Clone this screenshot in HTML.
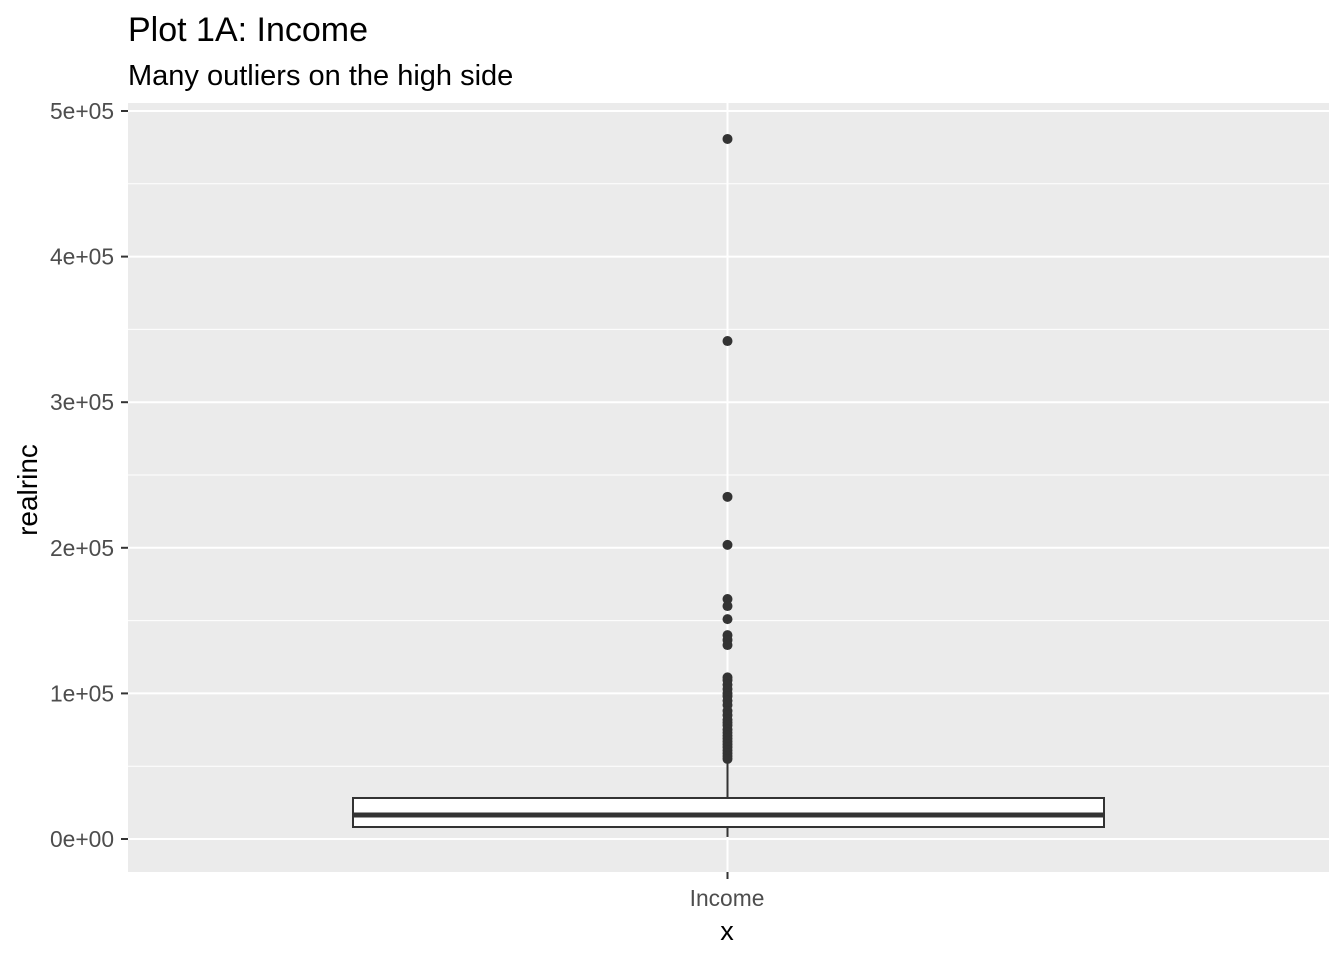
<!DOCTYPE html>
<html><head><meta charset="utf-8"><style>
body{margin:0;background:#fff;font-family:"Liberation Sans",sans-serif}
</style></head><body>
<svg id="chart" width="1344" height="960" xmlns="http://www.w3.org/2000/svg">
<rect x="0" y="0" width="1344" height="960" fill="#fff"/>
<text x="128" y="41" font-size="34" fill="#000">Plot 1A: Income</text>
<text x="128" y="85" font-size="29" fill="#000">Many outliers on the high side</text>
<rect x="128" y="103" width="1201" height="769" fill="#ebebeb"/>
<g id="grid"></g>
<g id="marks"></g>
<g id="axes"></g>
<text x="727" y="906" font-size="22.8" fill="#4d4d4d" text-anchor="middle">Income</text>
<text x="727" y="940" font-size="27" fill="#000" text-anchor="middle">x</text>
<text transform="translate(37,490) rotate(-90)" font-size="28" fill="#000" text-anchor="middle">realrinc</text>
</svg>
<script>
const yTicks=[0,100000,200000,300000,400000,500000];
const yTickLabels=["0e+00","1e+05","2e+05","3e+05","4e+05","5e+05"];
const boxStats=[1400,8240,16480,28160,53000]; // min, q1, median, q3, max whisker
const outliers=[480800,342000,235000,202000,164800,160000,151000,140000,136700,133200,111000,109000,106000,103000,100000,98000,95000,92000,88000,85000,82000,80000,78000,75000,73000,71000,69000,67000,65000,63000,61000,59000,57000,55000];
const NS="http://www.w3.org/2000/svg";
function y(v){return 839-v*145.6/100000;}
const xc=727.5, bx0=353, bx1=1104;
function mk(tag,attrs,parent){const e=document.createElementNS(NS,tag);for(const k in attrs)e.setAttribute(k,attrs[k]);document.getElementById(parent).appendChild(e);return e;}
for(let i=0;i<yTicks.length-1;i++){const v=(yTicks[i]+yTicks[i+1])/2;
 const l=mk('line',{x1:128,x2:1329,y1:y(v),y2:y(v),stroke:'#fff','stroke-width':1},'grid');
 
 }
yTicks.forEach((v,i)=>{
 const l=mk('line',{x1:128,x2:1329,y1:y(v),y2:y(v),stroke:'#fff','stroke-width':2},'grid');
 
 
 const t=mk('line',{x1:121,x2:128,y1:y(v),y2:y(v),stroke:'#333','stroke-width':2},'axes');
 
 
 const tx=mk('text',{x:114,y:y(v)+8,'font-size':22.8,fill:'#4d4d4d','text-anchor':'end'},'axes');
 tx.textContent=yTickLabels[i];
 
 
});
const vg=mk('line',{x1:xc,x2:xc,y1:103,y2:872,stroke:'#fff','stroke-width':2},'grid');


const xt=mk('line',{x1:xc,x2:xc,y1:872,y2:879,stroke:'#333','stroke-width':2},'axes');


const wl=mk('line',{x1:xc,x2:xc,y1:y(boxStats[0]),y2:y(boxStats[1]),stroke:'#333','stroke-width':2},'marks');


const wu=mk('line',{x1:xc,x2:xc,y1:y(boxStats[3]),y2:y(boxStats[4]),stroke:'#333','stroke-width':2},'marks');


const bx=mk('rect',{x:bx0,y:y(boxStats[3]),width:bx1-bx0,height:y(boxStats[1])-y(boxStats[3]),fill:'#fff',stroke:'#333','stroke-width':2},'marks');


const md=mk('line',{x1:bx0,x2:bx1,y1:y(boxStats[2]),y2:y(boxStats[2]),stroke:'#333','stroke-width':5},'marks');


outliers.forEach(v=>{
 const c=mk('circle',{cx:xc,cy:y(v),r:5,fill:'#333'},'marks');
 
 
});
</script>
</body></html>
